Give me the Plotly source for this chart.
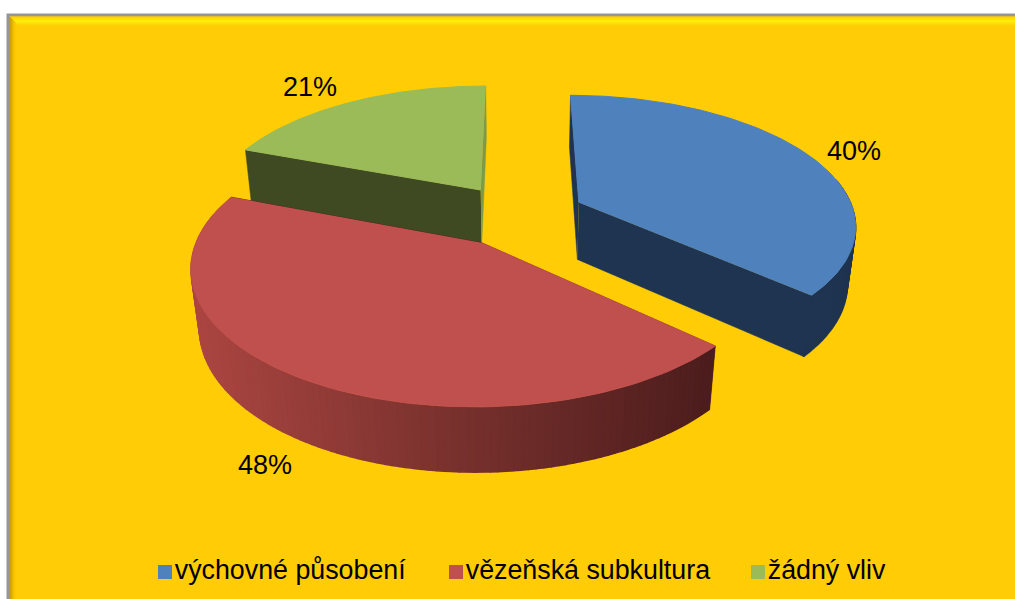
import numpy as np
import plotly.graph_objects as go

categories = ["výchovné působení", "vězeňská subkultura", "žádný vliv"]
values = [40, 48, 21]

top_colors = ["#4F81BD", "#C0504D", "#9BBB59"]
blue_side = "#1F3450"
red_side = "#4F1D1D"
green_side = "#404A22"
green_thin = "#7E9A49"

# projection of the exploded pie
X0, Y0 = 518, 215
RX, RY = 276, 128
PERSP, DEPTH, SHRINK = 0.16, 59, 0.025
EXPLODE = 0.245
START = 0.0

red_stops = [(199, (172, 70, 66)), (450, (122, 50, 46)), (709, (76, 29, 29))]


def project(x, y, z=0.0):
    s = 1 / (1 + PERSP * y + SHRINK * z)
    return X0 + RX * x * s, Y0 + (-RY * y + DEPTH * z) * s


def ramp(px):
    xs = [p[0] for p in red_stops]
    rgb = [np.interp(px, xs, [p[1][i] for p in red_stops]) for i in range(3)]
    return "rgb(%d,%d,%d)" % tuple(rgb)


def poly(fig, xs, ys, color, width=0.5):
    fig.add_trace(go.Scatter(
        x=list(xs), y=list(ys), mode="lines", fill="toself", fillcolor=color,
        line=dict(color=color, width=width), hoverinfo="skip", showlegend=False,
    ))


def wall(fig, ax, ay, a, color):
    ex, ey = ax + np.sin(a), ay + np.cos(a)
    pts = [project(ax, ay), project(ex, ey), project(ex, ey, 1), project(ax, ay, 1)]
    poly(fig, [p[0] for p in pts], [p[1] for p in pts], color)


def wedge(fig, a0, a1, color, side, start_wall, end_wall, gradient=False):
    mid = (a0 + a1) / 2
    ax = EXPLODE * np.sin(mid)
    ay = EXPLODE * np.cos(mid)
    th = np.linspace(a0, a1, 120)
    rim_x = ax + np.sin(th)
    rim_y = ay + np.cos(th)

    wall(fig, ax, ay, a0, start_wall)

    # outer side, strip by strip so the silhouette stays closed; back part is hidden anyway
    for i in range(len(th) - 1):
        if np.cos(th[i]) > 0.2:
            continue
        x0, y0 = project(rim_x[i], rim_y[i], 0.01)
        x1, y1 = project(rim_x[i + 1], rim_y[i + 1], 0.01)
        x2, y2 = project(rim_x[i + 1], rim_y[i + 1], 1)
        x3, y3 = project(rim_x[i], rim_y[i], 1)
        c = ramp((x2 + x3) / 2) if gradient else side
        poly(fig, [x0, x1, x2, x3], [y0, y1, y2, y3], c, width=1.6)

    wall(fig, ax, ay, a1, end_wall)

    # top face
    tx, ty = project(rim_x, rim_y)
    cx, cy = project(ax, ay)
    poly(fig, np.r_[cx, tx], np.r_[cy, ty], color, width=1)


fig = go.Figure()

total = sum(values)
angles = np.radians(START + np.cumsum([0] + values) / total * 360)

wedge(fig, angles[2], angles[3], top_colors[2], green_side, green_side, green_thin)
wedge(fig, angles[0], angles[1], top_colors[0], blue_side, blue_side, blue_side)
wedge(fig, angles[1], angles[2], top_colors[1], red_side, red_side, red_side, gradient=True)

# percent labels
label_x = [854, 265, 310]
label_y = [153, 467, 89]
fig.add_trace(go.Scatter(
    x=label_x, y=label_y, mode="text", text=[f"{v}%" for v in values],
    textposition="middle center", textfont=dict(family="Liberation Sans", size=27, color="#000000"),
    hoverinfo="skip", showlegend=False,
))

# legend row
legend_x = [165, 456, 758]
for i, name in enumerate(categories):
    fig.add_trace(go.Scatter(
        x=[legend_x[i]], y=[572], mode="markers+text", text=[name],
        marker=dict(symbol="square", size=14, color=top_colors[i]),
        textposition="middle right",
        textfont=dict(family="Liberation Sans", size=26.8, color="#000000"),
        hoverinfo="skip", showlegend=False,
    ))

# frame with bevel
shapes = [
    dict(type="rect", x0=8, y0=15, x1=1030, y1=620, fillcolor="#FFCC05",
         line=dict(color="#969696", width=3), layer="below"),
]
top_band = ["#FFCF04", "#FFD804", "#FFE404", "#FFEE08", "#FFF60F", "#FFF30C",
            "#FFE908", "#FFDF05", "#FFD604", "#FFD004", "#FFCD04"]
left_band = ["#B08A10", "#C29608", "#D4A404", "#E4B204", "#F0BE04", "#F9C704", "#FDCB04"]
for i, c in enumerate(top_band):
    shapes.append(dict(type="line", x0=10 + i, x1=1015, y0=17 + i, y1=17 + i,
                       line=dict(color=c, width=1), layer="below"))
for i, c in enumerate(left_band):
    shapes.append(dict(type="line", x0=10 + i, x1=10 + i, y0=17 + i, y1=599,
                       line=dict(color=c, width=1), layer="below"))

fig.update_layout(
    width=1015,
    height=599,
    margin=dict(l=0, r=0, t=0, b=0),
    paper_bgcolor="#FFFFFF",
    plot_bgcolor="rgba(0,0,0,0)",
    xaxis=dict(range=[0, 1015], visible=False, fixedrange=True),
    yaxis=dict(range=[599, 0], visible=False, fixedrange=True),
    shapes=shapes,
    showlegend=False,
)
# drop the page body's default margin so plot pixels line up with the window
fig.write_html(
    "out.html",
    config=dict(displayModeBar=False),
    post_script="document.body.style.margin='0';",
)
